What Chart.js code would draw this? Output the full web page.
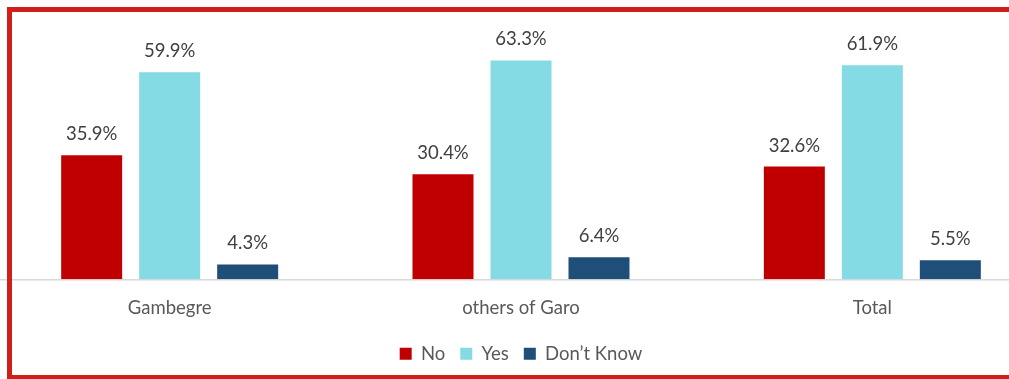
<!DOCTYPE html>
<html>
<head>
<meta charset="utf-8">
<script src="https://cdn.jsdelivr.net/npm/chart.js@4.4.1/dist/chart.umd.min.js"></script>
<style>
  html, body { margin: 0; padding: 0; background: #fff; overflow: hidden; }
  body { width: 1009px; height: 379px; position: relative; }
  #wrap { position: absolute; left: -6px; top: 0; width: 1054px; height: 379px; }
  #frame {
    position: absolute; left: 7px; top: 7px; width: 1100px; height: 373px;
    box-sizing: border-box; border: 5px solid #d01f1b; pointer-events: none;
  }
</style>
</head>
<body>
<div id="wrap"><canvas id="chart"></canvas></div>
<div id="frame"></div>
<script>
const groups = ['Gambegre', 'others of Garo', 'Total'];
const seriesNames = ['No', 'Yes', 'Don\u2019t Know'];
const noValues = [35.9, 30.4, 32.6];
const yesValues = [59.9, 63.3, 61.9];
const dontKnowValues = [4.3, 6.4, 5.5];
const seriesColors = ['#c00000', '#84dbe3', '#1f4e79'];

const FONT = 'Lato, "DejaVu Sans", sans-serif';

// prints the percentage above every bar
const barLabels = {
  id: 'barLabels',
  afterDatasetsDraw(chart) {
    const ctx = chart.ctx;
    ctx.save();
    ctx.font = '18.5px ' + FONT;
    ctx.fillStyle = '#404040';
    ctx.textAlign = 'center';
    ctx.textBaseline = 'alphabetic';
    chart.data.datasets.forEach((ds, i) => {
      chart.getDatasetMeta(i).data.forEach((bar, j) => {
        ctx.fillText(ds.data[j].toFixed(1) + '%', bar.x, bar.y - 15);
      });
    });
    ctx.restore();
  }
};

const datasets = [noValues, yesValues, dontKnowValues].map((values, i) => ({
  label: seriesNames[i],
  data: values,
  backgroundColor: seriesColors[i],
  borderWidth: 0,
  categoryPercentage: 0.666,
  barPercentage: 0.782
}));

new Chart(document.getElementById('chart'), {
  type: 'bar',
  data: { labels: groups, datasets },
  plugins: [barLabels],
  options: {
    responsive: true,
    maintainAspectRatio: false,
    animation: false,
    layout: { padding: { top: 20, left: 0, right: 0, bottom: 6 } },
    plugins: {
      tooltip: { enabled: false },
      legend: {
        position: 'bottom',
        labels: {
          boxWidth: 12,
          boxHeight: 12,
          padding: 15,
          color: '#595959',
          font: { family: FONT, size: 18.5 }
        }
      }
    },
    scales: {
      x: {
        grid: { display: false, drawTicks: false },
        border: { display: true, color: '#d9d9d9', width: 1.5 },
        ticks: {
          color: '#595959',
          padding: 18,
          font: { family: FONT, size: 18.5 }
        },
        // tighten the gap between category names and the legend
        afterFit(scale) {
          scale.height -= 8;
        }
      },
      y: {
        display: false,
        min: 0,
        max: 75
      }
    }
  }
});
</script>
</body>
</html>
